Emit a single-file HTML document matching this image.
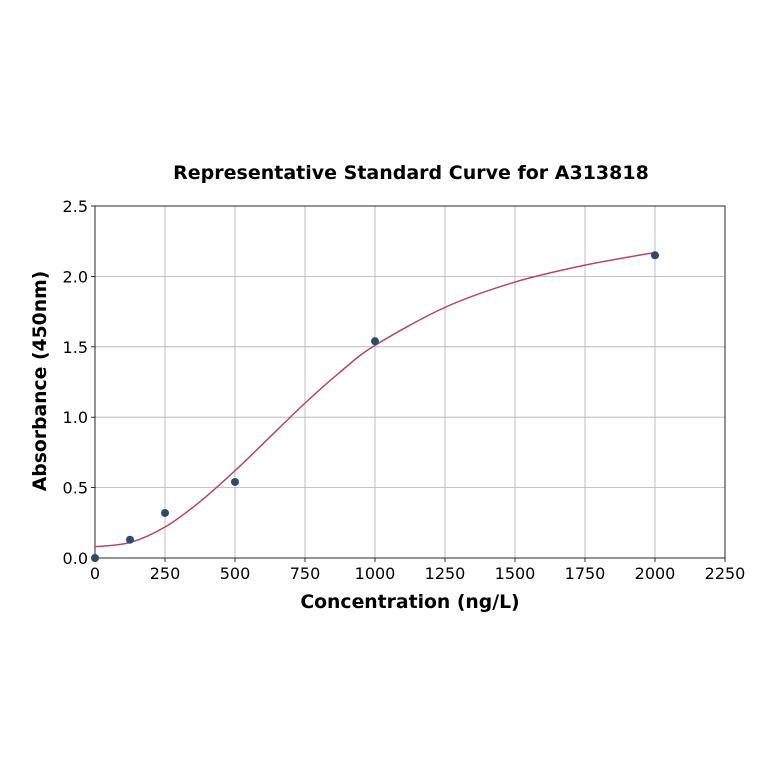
<!DOCTYPE html>
<html><head><meta charset="utf-8"><style>
html,body{margin:0;padding:0;background:#fff;}
svg text{font-family:"DejaVu Sans","Liberation Sans",sans-serif;fill:#000;}
</style></head><body>
<svg id="chart" width="764" height="764" xmlns="http://www.w3.org/2000/svg">
<rect width="764" height="764" fill="#fff"/>
<text x="411" y="179" font-size="19" font-weight="bold" text-anchor="middle">Representative Standard Curve for A313818</text>
<g id="grid"></g>
<g id="axes"></g>
<g id="series"></g>
<text x="410" y="608" font-size="18.8" font-weight="bold" text-anchor="middle">Concentration (ng/L)</text>
<text x="46" y="381" font-size="18.8" font-weight="bold" text-anchor="middle" transform="rotate(-90 46 381)">Absorbance (450nm)</text>
</svg>
<script>
const xTicks=[0,250,500,750,1000,1250,1500,1750,2000,2250];
const yTicks=[0.0,0.5,1.0,1.5,2.0,2.5];
const yTickLabels=["0.0","0.5","1.0","1.5","2.0","2.5"];
const conc=[0,125,250,500,1000,2000];
const absorb=[0.0,0.13,0.32,0.54,1.54,2.15];
const fitX=[0,125,250,375,500,625,750,875,1000,1250,1500,1750,2000];
const fitY=[0.08,0.11,0.22,0.40,0.62,0.86,1.10,1.32,1.51,1.78,1.96,2.08,2.17];

const L=95,R=725,T=206,B=558;
const sx=v=>L+(v-0)/(2250-0)*(R-L);
const sy=v=>B-(v-0)/(2.5-0)*(B-T);
const NS="http://www.w3.org/2000/svg";
function mk(tag,attrs,parent,txt){const e=document.createElementNS(NS,tag);for(const k in attrs)e.setAttribute(k,attrs[k]);if(txt!==undefined)e.textContent=txt;parent.appendChild(e);return e;}
const grid=document.getElementById('grid'),axes=document.getElementById('axes'),series=document.getElementById('series');

xTicks.forEach(t=>{
  const g=mk('line',{x1:sx(t),x2:sx(t),y1:T,y2:B,stroke:'#b0b0b0','stroke-width':0.8},grid);
  
  
  const tk=mk('line',{x1:sx(t),x2:sx(t),y1:B,y2:B+4,stroke:'#000','stroke-width':0.8},axes);
  
  
  const lb=mk('text',{x:sx(t),y:B+21,'font-size':16,'text-anchor':'middle'},axes,String(t));
  
  
});
yTicks.forEach((t,i)=>{
  const g=mk('line',{x1:L,x2:R,y1:sy(t),y2:sy(t),stroke:'#b0b0b0','stroke-width':0.8},grid);
  
  
  const tk=mk('line',{x1:L-4,x2:L,y1:sy(t),y2:sy(t),stroke:'#000','stroke-width':0.8},axes);
  
  
  const lb=mk('text',{x:L-7,y:sy(t)+6,'font-size':16,'text-anchor':'end'},axes,yTickLabels[i]);
  
  
});
const frame=mk('rect',{x:L,y:T,width:R-L,height:B-T,fill:'none',stroke:'#000','stroke-width':0.8},axes);



const P=fitX.map((x,i)=>[sx(x),sy(fitY[i])]);
let d=`M${P[0][0]},${P[0][1]}`;
for(let i=0;i<P.length-1;i++){
  const p0=P[Math.max(0,i-1)],p1=P[i],p2=P[i+1],p3=P[Math.min(P.length-1,i+2)];
  const c1=[p1[0]+(p2[0]-p0[0])/6,p1[1]+(p2[1]-p0[1])/6];
  const c2=[p2[0]-(p3[0]-p1[0])/6,p2[1]-(p3[1]-p1[1])/6];
  d+=` C${c1[0]},${c1[1]} ${c2[0]},${c2[1]} ${p2[0]},${p2[1]}`;
}
const curve=mk('path',{d:d,fill:'none',stroke:'#b5446e','stroke-width':1.5},series);



conc.forEach((c,i)=>{
  const pt=mk('circle',{cx:sx(c),cy:sy(absorb[i]),r:4,fill:'#2d4a6e'},series);
  
  
});
</script>
</body></html>
